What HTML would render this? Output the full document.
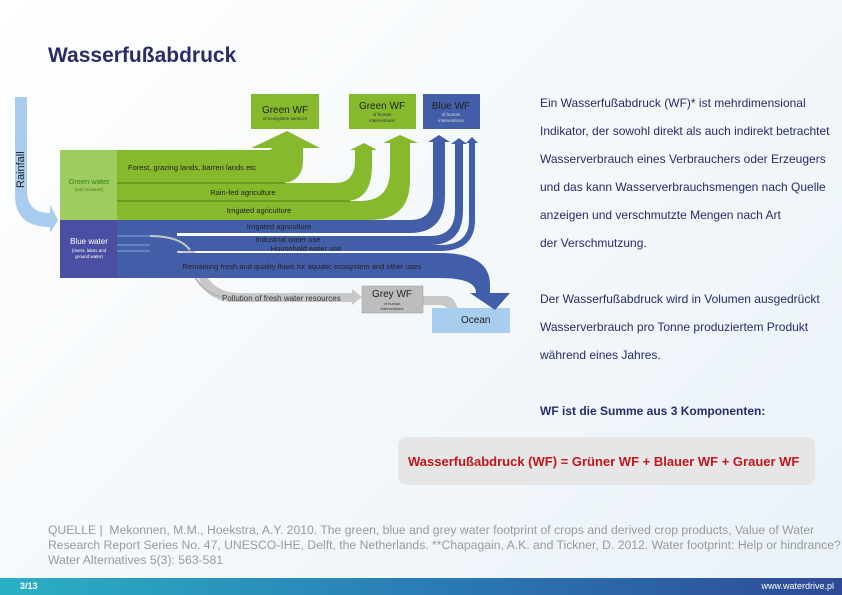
<!DOCTYPE html>
<html><head><meta charset="utf-8"><style>
body{margin:0;width:842px;height:595px;overflow:hidden;position:relative;font-family:"Liberation Sans",sans-serif;background:linear-gradient(135deg,#ffffff 0%,#f4f8fb 50%,#e9f2f8 100%);}
.t{position:absolute;left:540px;font-size:12px;color:#2b2a6b;white-space:nowrap;}
</style></head><body>
<div style="position:absolute;left:48px;top:44px;font-size:21px;font-weight:bold;color:#2b2a6b;">Wasserfußabdruck</div>
<svg width="842" height="595" style="position:absolute;left:0;top:0" font-family="Liberation Sans, sans-serif">
<path d="M15,97 H27 V190 Q27,213 50,213 V205 L58,220 L50,233 V227 Q15,227 15,195 Z" fill="#a9cdee"/>
<text transform="translate(24,188) rotate(-90)" font-size="11" fill="#222">Rainfall</text>
<path d="M150,236 Q190,236 200,260 Q208,293 240,293 H352 V289 L362,297 L352,305 V302 H235 Q205,302 198,275 Q190,245 150,245 Z" fill="#c8c8c8"/>
<path d="M150,245 Q180,247 190,265 Q200,295 225,297" stroke="#b8b8b8" stroke-width="2" fill="none"/>
<path d="M423,296 H445 Q455,296 458,310 H448 Q446,305 440,305 H423 Z" fill="#c8c8c8"/>
<text x="222" y="301" font-size="8" fill="#333">Pollution of fresh water resources</text>
<rect x="432" y="308" width="78" height="25" fill="#a9cdee"/>
<text x="461" y="323" font-size="10" fill="#222">Ocean</text>
<rect x="362" y="286" width="61" height="27" fill="#bdbdbd" stroke="#999" stroke-width="0.5"/>
<text x="392" y="297" font-size="10" text-anchor="middle" fill="#222">Grey WF</text>
<text x="392" y="305" font-size="4" text-anchor="middle" fill="#333">of human</text>
<text x="392" y="310" font-size="4" text-anchor="middle" fill="#333">interventions</text>
<path d="M117,253 H440 Q490,253 490,285 V293 L510,293 L495,310 L470,293 L476,293 Q476,278 440,278 H117 Z" fill="#425ea8"/>
<path d="M117,245 H440 Q469,245 469,220 V143 L466,143 L472,137 L478,143 L475,143 V220 Q475,251 440,251 H117 Z" fill="#425ea8"/>
<path d="M117,236 H430 Q455,236 455,210 V144 L451,144 L459,138 L467,144 L463,144 V210 Q463,245 430,245 H117 Z" fill="#425ea8"/>
<path d="M117,220 H410 Q433,220 433,195 V142 L428,142 L439,135 L450,142 L445,142 V195 Q445,233 410,233 H117 Z" fill="#425ea8"/>
<rect x="117" y="220" width="60" height="58" fill="#425ea8"/>
<path d="M117,201 H360 Q390,201 390,170 V143 L383,143 L400,135 L418,143 L410,143 V180 Q410,220 370,220 H117 Z" fill="#86b92c"/>
<path d="M117,183 H335 Q355,183 355,160 V150 L350,150 L364,143 L377,150 L372,150 V165 Q372,201 345,201 H117 Z" fill="#86b92c"/>
<path d="M117,150 H268 Q272,150 272,148 L251,148 L287,131 L320,148 L303,148 V160 Q303,183 280,183 H117 Z" fill="#86b92c"/>
<line x1="117" y1="183" x2="285" y2="183" stroke="#3f6a10" stroke-width="0.7"/>
<line x1="117" y1="201" x2="350" y2="201" stroke="#3f6a10" stroke-width="0.7"/>
<path d="M150,236 Q180,236 190,250" stroke="#c8c8c8" stroke-width="2" fill="none"/>
<line x1="117" y1="236" x2="150" y2="236" stroke="#8fa3d8" stroke-width="1"/>
<line x1="117" y1="245" x2="150" y2="245" stroke="#8fa3d8" stroke-width="1"/>
<line x1="117" y1="251" x2="150" y2="251" stroke="#8fa3d8" stroke-width="1"/>
<rect x="60" y="150" width="57" height="70" fill="#9fcc5f"/>
<text x="89" y="184" font-size="7.5" text-anchor="middle" fill="#3d7d1a">Green water</text>
<text x="89" y="191" font-size="4.5" text-anchor="middle" fill="#3d7d1a">(soil moisture)</text>
<rect x="60" y="220" width="57" height="58" fill="#4a4fa3"/>
<text x="89" y="244" font-size="8" text-anchor="middle" fill="#fff">Blue water</text>
<text x="89" y="252" font-size="4.5" text-anchor="middle" fill="#fff">(rivers, lakes and</text>
<text x="89" y="258" font-size="4.5" text-anchor="middle" fill="#fff">ground water)</text>
<text x="128" y="170" font-size="7.5" fill="#222">Forest, grazing lands, barren lands etc</text>
<text x="243" y="195" font-size="7.5" text-anchor="middle" fill="#222">Rain-fed agriculture</text>
<text x="259" y="213" font-size="7.5" text-anchor="middle" fill="#222">Irrigated agriculture</text>
<text x="279" y="229" font-size="7.5" text-anchor="middle" fill="#222">Irrigated agriculture</text>
<text x="288" y="242" font-size="7.5" text-anchor="middle" fill="#222">Industrial water use</text>
<text x="306" y="251" font-size="7.5" text-anchor="middle" fill="#222">Household water use</text>
<text x="302" y="269" font-size="7.5" text-anchor="middle" fill="#222">Remaining fresh and quality flows for aquatic ecosystem and other uses</text>
<rect x="251" y="94" width="68" height="35" fill="#86b92c"/>
<text x="285" y="113" font-size="10" text-anchor="middle" fill="#222">Green WF</text>
<text x="285" y="120" font-size="4.5" text-anchor="middle" fill="#333">of ecosystem services</text>
<rect x="349" y="94" width="67" height="35" fill="#86b92c"/>
<text x="382" y="109" font-size="10" text-anchor="middle" fill="#222">Green WF</text>
<text x="382" y="116" font-size="4.5" text-anchor="middle" fill="#333">of human</text>
<text x="382" y="122" font-size="4.5" text-anchor="middle" fill="#333">interventions</text>
<rect x="423" y="94" width="57" height="35" fill="#425ea8"/>
<text x="451" y="109" font-size="10" text-anchor="middle" fill="#222">Blue WF</text>
<text x="451" y="116" font-size="4.5" text-anchor="middle" fill="#ddd">of human</text>
<text x="451" y="122" font-size="4.5" text-anchor="middle" fill="#ddd">interventions</text>
</svg>
<div class="t" style="top:96px">Ein Wasserfußabdruck (WF)* ist mehrdimensional</div>
<div class="t" style="top:124px">Indikator, der sowohl direkt als auch indirekt betrachtet</div>
<div class="t" style="top:152px">Wasserverbrauch eines Verbrauchers oder Erzeugers</div>
<div class="t" style="top:180px">und das kann Wasserverbrauchsmengen nach Quelle</div>
<div class="t" style="top:208px">anzeigen und verschmutzte Mengen nach Art</div>
<div class="t" style="top:236px">der Verschmutzung.</div>
<div class="t" style="top:292px">Der Wasserfußabdruck wird in Volumen ausgedrückt</div>
<div class="t" style="top:320px">Wasserverbrauch pro Tonne produziertem Produkt</div>
<div class="t" style="top:348px">während eines Jahres.</div>
<div class="t" style="top:404px;font-weight:bold">WF ist die Summe aus 3 Komponenten:</div>
<div style="position:absolute;left:398px;top:437px;width:417px;height:48px;background:#e6e6e6;border-radius:8px;"></div>
<div style="position:absolute;left:408px;top:454px;font-size:13px;font-weight:bold;color:#c0161c;white-space:nowrap;">Wasserfußabdruck (WF) = Grüner WF + Blauer WF + Grauer WF</div>
<div style="position:absolute;left:48px;top:523px;width:800px;font-size:12.2px;line-height:15px;color:#9a9a9a;white-space:nowrap;">QUELLE |&nbsp; Mekonnen, M.M., Hoekstra, A.Y. 2010. The green, blue and grey water footprint of crops and derived crop products, Value of Water<br>Research Report Series No. 47, UNESCO-IHE, Delft, the Netherlands. **Chapagain, A.K. and Tickner, D. 2012. Water footprint: Help or hindrance?<br>Water Alternatives 5(3): 563-581</div>
<div style="position:absolute;left:0;top:578px;width:842px;height:17px;background:linear-gradient(90deg,#2ab0c4 0%,#2a7db5 50%,#2e4a96 100%);"></div>
<div style="position:absolute;left:20px;top:581px;font-size:9px;color:#fff;font-weight:bold;">3/13</div>
<div style="position:absolute;right:8px;top:581px;font-size:9px;color:#fff;">www.waterdrive.pl</div>
</body></html>
